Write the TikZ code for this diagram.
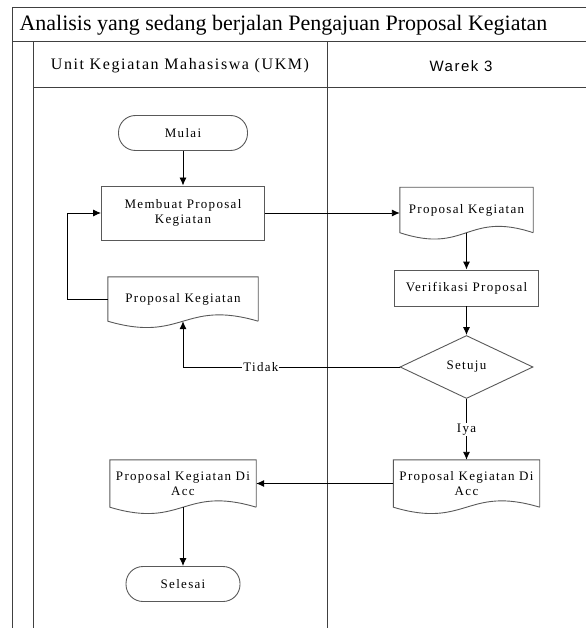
\documentclass[tikz,border=0pt]{standalone}
\usepackage{fontspec}
\setmainfont{Liberation Serif}
\newfontfamily\lsserif{Liberation Serif}[LetterSpace=10]
\newfontfamily\lssans{Liberation Sans}[LetterSpace=10]
\usetikzlibrary{calc, shapes.geometric, arrows.meta}
\newcommand{\bodyfont}{\lsserif\fontsize{13}{15.5}\selectfont}
\tikzset{ frame/.style = { draw         = black!75
                         , line width   = 1pt
                         },
          proc/.style  = { rectangle
                         , draw         = black!65
                         , line width   = 0.9pt
                         , inner sep    = 0pt
                         , align        = center
                         , font         = \bodyfont
                         },
          term/.style  = { proc
                         , rounded corners = 17pt
                         },
          doc/.style   = { rectangle
                         , draw         = none
                         , inner sep    = 0pt
                         , align        = center
                         , font         = \bodyfont
                         },
          dec/.style   = { diamond
                         , draw         = black!65
                         , line width   = 0.9pt
                         , inner sep    = 0pt
                         , font         = \bodyfont
                         },
          docline/.style = { draw       = black!65
                         , line width   = 0.9pt
                         },
          arr/.style   = { draw         = black
                         , line width   = 0.9pt
                         , -{Latex[length=8pt,width=7pt]}
                         },
          lbl/.style   = { fill         = white
                         , inner sep    = 1pt
                         , font         = \bodyfont
                         }
        }
% outline of a document symbol round a node without border
\newcommand{\docshape}[1]{%
  \draw[docline] (#1.south east) -- (#1.north east) -- (#1.north west) -- (#1.south west)
    .. controls ($(#1.south)+(0,22)$) and ($(#1.south)+(0,-22)$) .. (#1.south east);}
\begin{document}
\begin{tikzpicture}[x=1pt, y=-1pt]
  \useasboundingbox (0,0) rectangle (586,628);
  % swimlanes
  \draw[frame] (586,8) -- (12,8) -- (12,628);
  \draw[frame] (12,42) -- (586,42);
  \draw[frame] (33,88) -- (586,88);
  \draw[frame] (33,42) -- (33,628);
  \draw[frame] (327,42) -- (327,628);
  \node[anchor=west, font=\fontsize{22}{26}\selectfont] (judul) at (16,25)
    {Analisis yang sedang berjalan Pengajuan Proposal Kegiatan};
  \node[font=\lsserif\fontsize{16}{19}\selectfont] (ukm) at (180,66) {Unit Kegiatan Mahasiswa (UKM)};
  \node[font=\lssans\fontsize{15}{18}\selectfont] (warek) at (461,66) {Warek 3};

  % UKM
  \node[term, minimum width=129pt, minimum height=35pt] (mulai) at (183,133) {Mulai};
  \node[proc, minimum width=163pt, minimum height=54pt] (buat) at (183,213)
    {Membuat Proposal\\Kegiatan};
  \node[doc, minimum width=150pt, minimum height=44pt] (pk1) at (183,299) {Proposal Kegiatan};
  \node[doc, minimum width=146pt, minimum height=47pt] (lacc) at (183,483.5)
    {Proposal Kegiatan Di\\Acc};
  \node[term, minimum width=114pt, minimum height=35pt] (selesai) at (183,584) {Selesai};
  \coordinate (loop) at (67,213);

  % Warek 3
  \node[doc, minimum width=133pt, minimum height=45pt] (pk2) at (466.5,210) {Proposal Kegiatan};
  \node[proc, minimum width=144pt, minimum height=36pt] (verif) at (466.5,288) {Verifikasi Proposal};
  \node[dec, minimum width=133pt, minimum height=63pt] (setuju) at (466.5,367) {Setuju};
  \node[doc, minimum width=146pt, minimum height=47pt] (racc) at (466.5,483.5)
    {Proposal Kegiatan Di\\Acc};

  \docshape{pk1}
  \docshape{lacc}
  \docshape{pk2}
  \docshape{racc}

  \path[arr] (mulai) -- (buat);
  \path[arr] (buat.east) -- (buat.east -| pk2.west);
  \path[arr] (pk2.south) -- (verif.north);
  \path[arr] (verif) -- (setuju);
  \path[arr] (setuju.west) -| node[lbl, pos=0.32] {Tidak} (pk1.south);
  \path[arr] (pk1.west) -| (loop) -- (buat.west);
  \path[arr] (setuju.south) -- node[lbl] {Iya} (racc.north);
  \path[arr] (racc.west) -- (lacc.east);
  \path[arr] (lacc.south) -- (selesai.north);
\end{tikzpicture}
\end{document}
